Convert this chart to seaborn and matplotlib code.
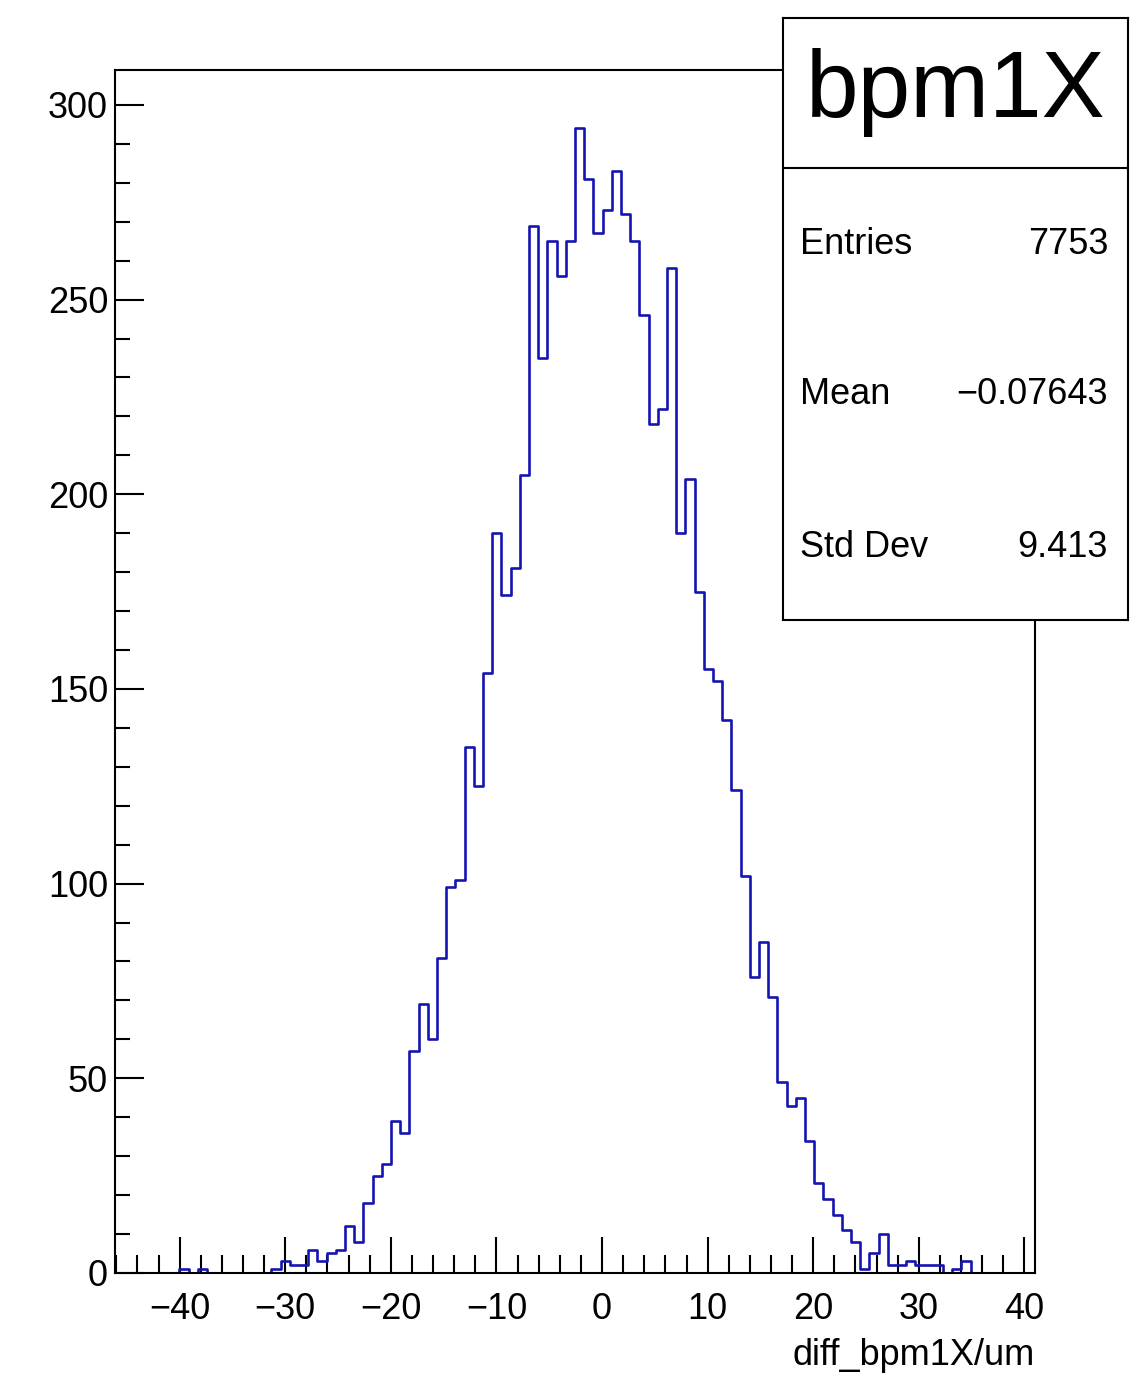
import matplotlib
matplotlib.use("Agg")
import matplotlib.pyplot as plt
import numpy as np
import pandas as pd
import seaborn as sns
from matplotlib.ticker import MultipleLocator

# histogram range and bin contents (100 bins)
x_lo, x_hi = -46.12, 41.0
counts = [0, 0, 0, 0, 0, 0, 0, 1, 0, 1,
          0, 0, 0, 0, 0, 0, 0, 1, 3, 2,
          2, 6, 3, 5, 6, 12, 8, 18, 25, 28,
          39, 36, 57, 69, 60, 81, 99, 101, 135, 125,
          154, 190, 174, 181, 205, 269, 235, 265, 256, 265,
          294, 281, 267, 273, 283, 272, 265, 246, 218, 222,
          258, 190, 204, 175, 155, 152, 142, 124, 102, 76,
          85, 71, 49, 43, 45, 34, 23, 19, 15, 11,
          8, 1, 5, 10, 2, 2, 3, 2, 2, 2,
          0, 1, 3, 0, 0, 0, 0, 0, 0, 0]
hist_name = "bpm1X"
x_title = "diff_bpm1X/um"
stat_names = ["Entries", "Mean", "Std Dev"]
stat_values = ["7753", "\u22120.07643", "9.413"]

edges = np.linspace(x_lo, x_hi, len(counts) + 1)
centers = 0.5 * (edges[:-1] + edges[1:])
df = pd.DataFrame({"x": centers, "n": counts})

sns.set_theme(style="ticks")
plt.rcParams["font.family"] = ["Liberation Sans", "DejaVu Sans"]

fig = plt.figure(figsize=(11.32, 13.76), dpi=100)
ax = fig.add_axes([0.1016, 0.0749, 0.8127, 0.8743])
sns.histplot(data=df, x="x", weights="n", bins=edges.tolist(), element="step", fill=False,
             color="#1414b0", linewidth=1.9, ax=ax)
ax.set_xlim(x_lo, x_hi)
ax.set_ylim(0, 309)

ax.xaxis.set_major_locator(MultipleLocator(10))
ax.xaxis.set_minor_locator(MultipleLocator(2))
ax.yaxis.set_major_locator(MultipleLocator(50))
ax.yaxis.set_minor_locator(MultipleLocator(10))
ax.tick_params(axis="x", which="major", direction="in", length=26, width=1.5, color="black",
               labelsize=26, pad=14, labelcolor="black")
ax.tick_params(axis="x", which="minor", direction="in", length=13, width=1.5, color="black")
ax.tick_params(axis="y", which="major", direction="in", length=21, width=1.5, color="black",
               labelsize=26, pad=5, labelcolor="black")
ax.tick_params(axis="y", which="minor", direction="in", length=11, width=1.5, color="black")
for s in ax.spines.values():
    s.set_color("black")
    s.set_linewidth(1.5)
ax.set_ylabel("")
ax.set_xlabel(x_title, loc="right", fontsize=26, labelpad=8, color="black")

# stats box
sax = fig.add_axes([0.6917, 0.5494, 0.3048, 0.4375])
sax.set_facecolor("white")
sax.set_xticks([])
sax.set_yticks([])
sax.set_xlim(0, 1)
sax.set_ylim(0, 1)
for s in sax.spines.values():
    s.set_color("black")
    s.set_linewidth(1.5)
sax.axhline(0.7508, color="black", lw=1.5)
sax.text(0.5, 0.877, hist_name, ha="center", va="center", fontsize=68, color="black")
for yy, name, val in zip([0.623, 0.374, 0.121], stat_names, stat_values):
    sax.text(0.049, yy, name, ha="left", va="center", fontsize=26, color="black")
    sax.text(0.942, yy, val, ha="right", va="center", fontsize=26, color="black")

fig.savefig("out.png", dpi=100)
